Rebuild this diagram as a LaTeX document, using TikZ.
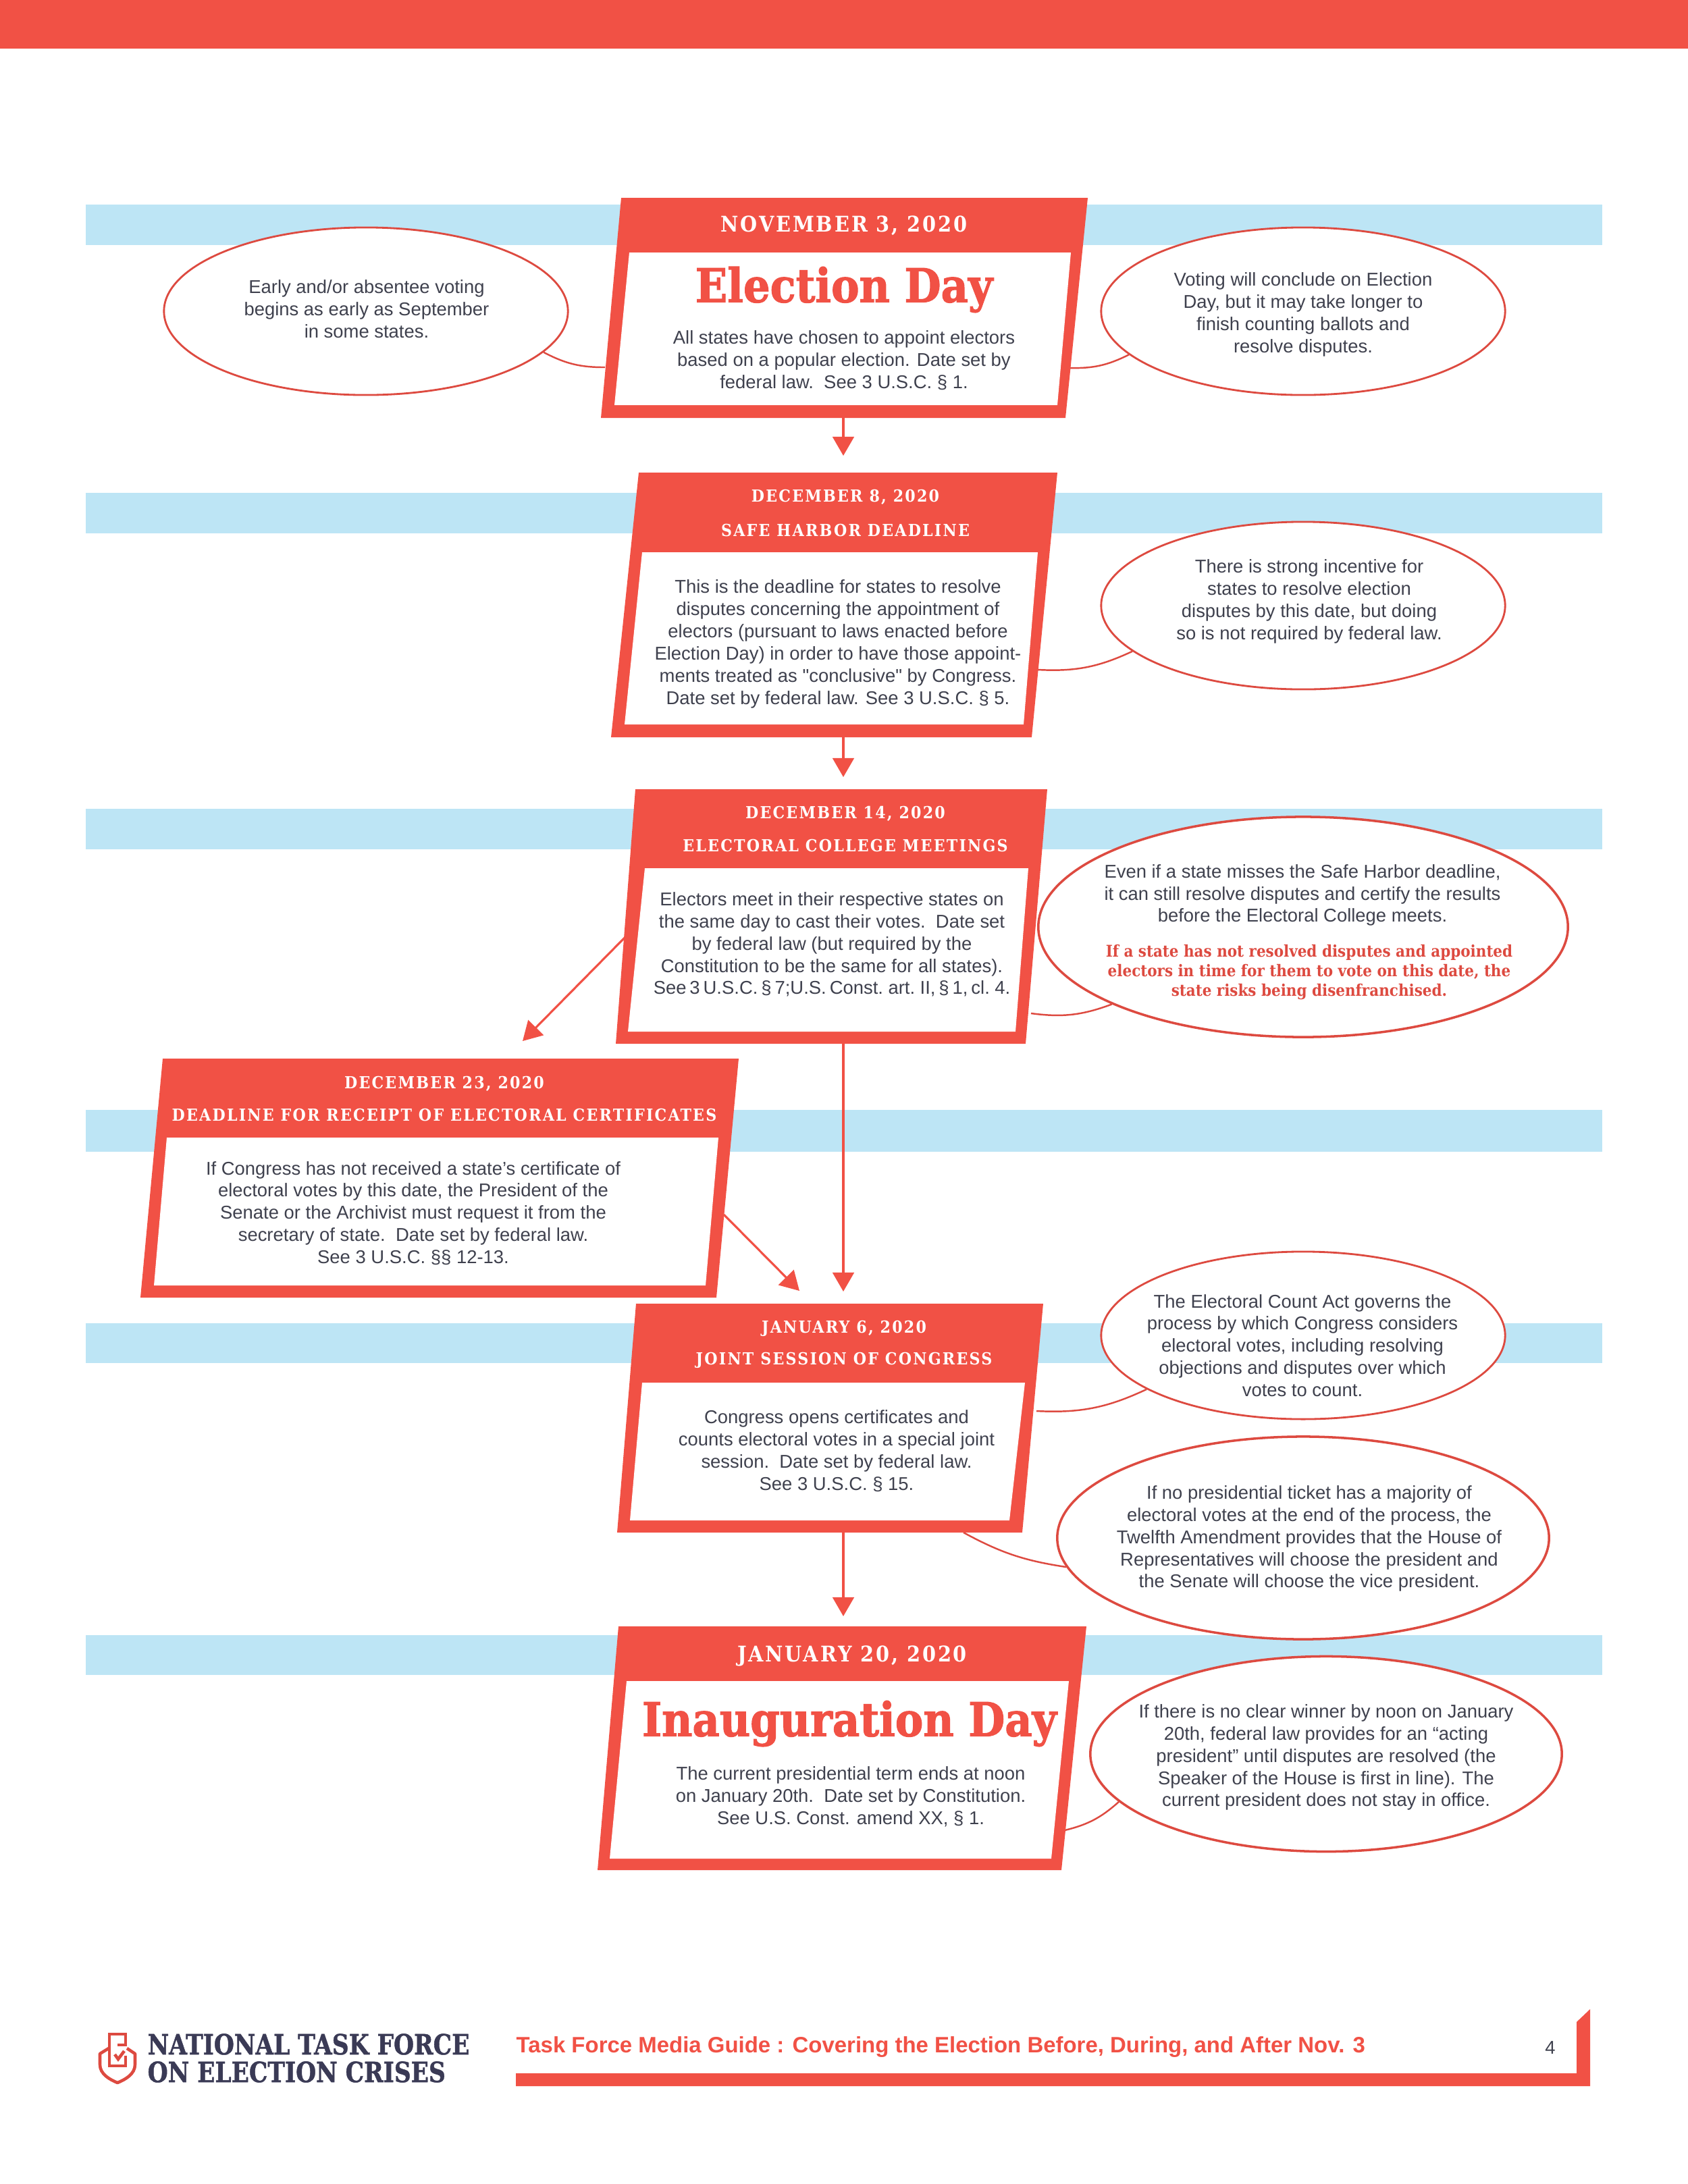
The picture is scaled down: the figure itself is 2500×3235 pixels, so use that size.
\documentclass[tikz,border=0pt]{standalone}
\usepackage{fontspec}
\setmainfont[Ligatures=TeXOff]{Liberation Sans}
\newfontfamily\slabfont[LetterSpace=9]{DejaVu Serif Condensed Bold}
\newfontfamily\slabtight{DejaVu Serif Condensed Bold}
\newfontfamily\slabheavy[FakeBold=1.6]{DejaVu Serif Condensed Bold}
\newfontfamily\logofont[FakeBold=1.2]{DejaVu Serif Bold}
\usetikzlibrary{arrows.meta,shapes.geometric}
\definecolor{boxred}{HTML}{F15145}
\definecolor{linered}{HTML}{DD4A40}
\definecolor{bandblue}{HTML}{BDE5F5}
\definecolor{txtgray}{HTML}{3F414E}
\definecolor{logoink}{HTML}{3A3A55}
\tikzset{
    bodytxt/.style={font=\fontsize{7.8}{9.35}\selectfont,align=center,text=txtgray,inner sep=0pt},
    redtxt/.style={font=\slabtight\fontsize{6.8}{8.2}\selectfont,align=center,text=linered,inner sep=0pt},
    hdbig/.style={font=\slabfont\fontsize{9.1}{11}\selectfont,text=white,inner sep=0pt},
    hdsmall/.style={font=\slabfont\fontsize{7}{9}\selectfont,text=white,inner sep=0pt},
    titletxt/.style={font=\slabheavy\fontsize{19.7}{26}\selectfont,text=boxred,inner sep=0pt},
    logotxt/.style={font=\logofont\fontsize{9.8}{12}\selectfont,text=logoink,inner sep=0pt,anchor=west},
    callout/.style={draw=linered,fill=white,ellipse,inner sep=0pt},
    callline/.style={draw=linered,line width=.7pt},
    flowarr/.style={draw=boxred,line width=.9pt,-{Triangle[length=8pt,width=9pt]}},
}
\begin{document}
\begin{tikzpicture}[x=.01cm,y=-.01cm]
    \useasboundingbox (0,0) rectangle (2500,3235);
    \fill[boxred] (0,0) rectangle (2500,72);
    \foreach \ytop/\ybot in {303/363,730/790,1198/1258,1644/1706,1960/2019,2422/2481}{
        \fill[bandblue] (127,\ytop) rectangle (2373,\ybot);
    }
    % connector ends on the boxes and in front of the boxes
    \path
        (896,544) coordinate (cbox1)
        (1584,545) coordinate (cbox2)
        (1537,992) coordinate (cbox3)
        (1527,1501) coordinate (cbox4)
        (1535,2090) coordinate (cbox5)
        (1427,2270) coordinate (cbox6)
        (1577,2711) coordinate (cbox7)
        (1249,619) coordinate (elecbot)
        (1249,675) coordinate (harbortop)
        (1249,1092) coordinate (harborbot)
        (1249,1151) coordinate (meettop)
        (1249,1546) coordinate (meetbot)
        (926,1388) coordinate (meetleft)
        (774,1542) coordinate (receipttop)
        (1072,1799) coordinate (receiptright)
        (1184,1912) coordinate (jointleft)
        (1249,1913) coordinate (jointtop)
        (1249,2270) coordinate (jointbot)
        (1249,2394) coordinate (inaugtop);
    % the callouts
    \foreach \nm/\cx/\cy/\ewd/\eht/\elw in {%
        e1/542/461/5.98/2.48/.8,
        e2/1930/461/5.98/2.48/.8,
        e3/1930/897/5.98/2.48/.8,
        e4/1930/1373/7.84/3.26/1,
        e5/1930/1978/5.98/2.48/.8,
        e6/1930/2278/7.28/3.00/1,
        e7/1964/2598/6.98/2.89/1%
    }{
        \node[callout,line width=\elw pt,minimum width=\ewd cm,minimum height=\eht cm] (\nm) at (\cx,\cy) {};
    }
    \draw[callline] (e1.-13) to[bend right=14] (cbox1);
    \draw[callline] (e2.194) to[bend left=14] (cbox2);
    \draw[callline] (e3.195) to[bend left=14] (cbox3);
    \draw[callline] (e4.202) to[bend left=14] (cbox4);
    \draw[callline] (e5.199) to[bend left=14] (cbox5);
    \draw[callline] (e6.187) to[bend left=10] (cbox6);
    \draw[callline] (e7.193) to[bend left=14] (cbox7);
    % the boxes: outer corners, then the white panel
    \foreach \ax/\bx/\cx/\dx/\ty/\by/\iax/\ibx/\icx/\idx/\ity/\iby in {%
        920/1611/1578/890/293/619/932/1586/1566/910/374/600,
        946/1566/1528/905/700/1092/951/1537/1516/925/818/1073,
        941/1551/1519/912/1169/1546/955/1523/1504/930/1286/1528,
        241/1094/1061/208/1568/1922/247/1064/1045/228/1685/1904,
        942/1545/1514/914/1931/2270/951/1518/1495/933/2048/2252,
        916/1609/1572/885/2409/2770/928/1583/1557/903/2490/2753%
    }{
        \fill[boxred] (\ax,\ty) -- (\bx,\ty) -- (\cx,\by) -- (\dx,\by) -- cycle;
        \fill[white] (\iax,\ity) -- (\ibx,\ity) -- (\icx,\iby) -- (\idx,\iby) -- cycle;
    }
    \draw[flowarr] (elecbot) -- (harbortop);
    \draw[flowarr] (harborbot) -- (meettop);
    \draw[flowarr] (meetbot) -- (jointtop);
    \draw[flowarr] (meetleft) -- (receipttop);
    \draw[flowarr] (receiptright) -- (jointleft);
    \draw[flowarr] (jointbot) -- (inaugtop);
    % headers
    \node[hdbig] (elecdate) at (1250,334) {NOVEMBER 3, 2020};
    \node[titletxt] (electitle) at (1250,429) {Election Day};
    \node[hdsmall] (harbordate) at (1252,736) {DECEMBER 8, 2020};
    \node[hdsmall] (harborname) at (1252,786) {SAFE HARBOR DEADLINE};
    \node[hdsmall] (meetdate) at (1252,1205) {DECEMBER 14, 2020};
    \node[hdsmall] (meetname) at (1252,1253) {ELECTORAL COLLEGE MEETINGS};
    \node[hdsmall] (receiptdate) at (658,1605) {DECEMBER 23, 2020};
    \node[hdsmall] (receiptname) at (658,1652) {DEADLINE FOR RECEIPT OF ELECTORAL CERTIFICATES};
    \node[hdsmall] (jointdate) at (1250,1968) {JANUARY 6, 2020};
    \node[hdsmall] (jointname) at (1250,2015) {JOINT SESSION OF CONGRESS};
    \node[hdbig] (inaugdate) at (1262,2453) {JANUARY 20, 2020};
    \node[titletxt] (inaugtitle) at (1258,2553) {Inauguration Day};
    % box texts
    \node[bodytxt] (electxt) at (1250,534) {All states have chosen to appoint electors\\based on a popular election. Date set by\\federal law.\ \ See 3 U.S.C. § 1.};
    \node[bodytxt] (harbortxt) at (1241,954) {This is the deadline for states to resolve\\disputes concerning the appointment of\\electors (pursuant to laws enacted before\\Election Day) in order to have those appoint-\\ments treated as "conclusive" by Congress.\\Date set by federal law. See 3 U.S.C. § 5.};
    \node[bodytxt] (meettxt) at (1232,1399) {Electors meet in their respective states on\\the same day to cast their votes.\ \ Date set\\by federal law (but required by the\\Constitution to be the same for all states).\\{\spaceskip=.18em\relax See 3 U.S.C. § 7;U.S. Const. art. II, § 1, cl. 4.}};
    \node[bodytxt] (receipttxt) at (612,1797) {If Congress has not received a state’s certificate of\\electoral votes by this date, the President of the\\Senate or the Archivist must request it from the\\secretary of state.\ \ Date set by federal law.\\See 3 U.S.C. §§ 12-13.};
    \node[bodytxt] (jointtxt) at (1239,2149) {Congress opens certificates and\\counts electoral votes in a special joint\\session.\ \ Date set by federal law.\\See 3 U.S.C. § 15.};
    \node[bodytxt] (inaugtxt) at (1260,2661) {The current presidential term ends at noon\\on January 20th.\ \ Date set by Constitution.\\See U.S. Const. amend XX, § 1.};
    % callout texts
    \node[bodytxt] (t1) at (543,458) {Early and/or absentee voting\\begins as early as September\\in some states.};
    \node[bodytxt] (t2) at (1930,466) {Voting will conclude on Election\\Day, but it may take longer to\\finish counting ballots and\\resolve disputes.};
    \node[bodytxt] (t3) at (1939,891) {There is strong incentive for\\states to resolve election\\disputes by this date, but doing\\so is not required by federal law.};
    \node[bodytxt] (t4) at (1929,1326) {Even if a state misses the Safe Harbor deadline,\\it can still resolve disputes and certify the results\\before the Electoral College meets.};
    \node[redtxt] (t4b) at (1939,1440) {If a state has not resolved disputes and appointed\\electors in time for them to vote on this date, the\\state risks being disenfranchised.};
    \node[bodytxt] (t5) at (1929,1993) {The Electoral Count Act governs the\\process by which Congress considers\\electoral votes, including resolving\\objections and disputes over which\\votes to count.};
    \node[bodytxt] (t6) at (1939,2279) {If no presidential ticket has a majority of\\electoral votes at the end of the process, the\\Twelfth Amendment provides that the House of\\Representatives will choose the president and\\the Senate will choose the vice president.};
    \node[bodytxt] (t7) at (1964,2603) {If there is no clear winner by noon on January\\20th, federal law provides for an “acting\\president” until disputes are resolved (the\\Speaker of the House is first in line). The\\current president does not stay in office.};
    % footer
    \fill[boxred] (764,3071) -- (2335,3071) -- (2335,2995) -- (2355,2976) -- (2355,3090) -- (764,3090) -- cycle;
    \node[font=\bfseries\fontsize{9.37}{11}\selectfont,text=boxred,inner sep=0pt,anchor=west] (guide) at (764,3032) {Task Force Media Guide : Covering the Election Before, During, and After Nov. 3};
    \node[bodytxt] (pagenum) at (2296,3033) {4};
    \node[logotxt] (logoa) at (218,3028) {\scalebox{1}[1.2]{NATIONAL TASK FORCE}};
    \node[logotxt] (logob) at (218,3069) {\scalebox{1}[1.2]{ON ELECTION CRISES}};
    % logo mark
    \draw[linered,line width=1.3pt,line join=round]
        (161,3034) -- (148,3042) -- (148,3058) .. controls (148,3072) and (162,3080) .. (174,3085)
        .. controls (186,3080) and (200,3072) .. (200,3058) -- (200,3042) -- (188,3034);
    \draw[linered,line width=1.3pt]
        (174,3029) -- (186,3029) -- (186,3013) -- (162,3013) -- (162,3060) -- (186,3060) -- (186,3045);
    \draw[linered,line width=1.3pt] (170,3043) -- (175,3050) -- (184,3038);
\end{tikzpicture}
\end{document}
